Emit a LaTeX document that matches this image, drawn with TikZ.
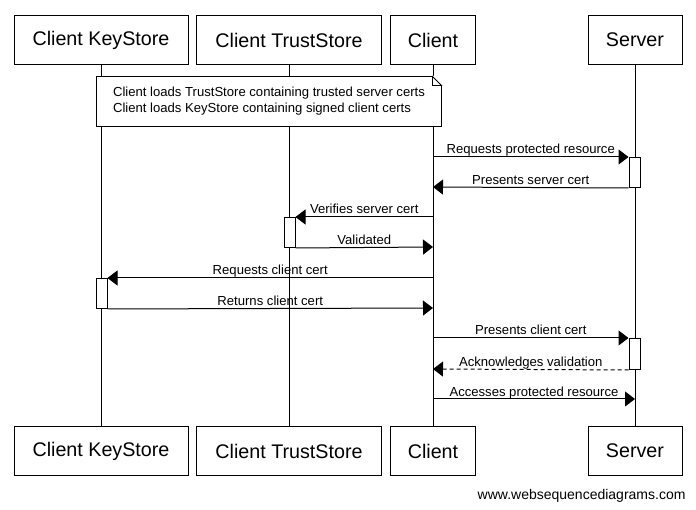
\documentclass[tikz,border=0pt]{standalone}
\usepackage{fontspec}
\setmainfont{Liberation Sans}
\usetikzlibrary{arrows.meta}
\begin{document}
\begin{tikzpicture}[x=1pt,y=-1pt,line width=1pt,
  part/.style={draw,fill=white,minimum height=49pt,inner sep=0pt,font=\fontsize{19.7}{22}\selectfont},
  msg/.style={-{Triangle[length=10pt,width=15pt]}},
  lbl/.style={anchor=base,yshift=3pt,inner sep=0pt,font=\fontsize{13.1}{15}\selectfont},
  act/.style={draw,fill=white,minimum width=11pt,inner sep=0pt,anchor=north},
  notebox/.style={draw,fill=white,align=left,minimum width=345pt,minimum height=50pt,inner sep=0pt,anchor=north west,font=\fontsize{13.1}{16}\selectfont}]
\useasboundingbox (0,0) rectangle (696,510);
% participants
\node[part,minimum width=174pt] (ksT) at (101,40) {Client KeyStore};
\node[part,minimum width=185pt] (tsT) at (289,40) {Client TrustStore};
\node[part,minimum width=85pt] (clT) at (433,40) {Client};
\node[part,minimum width=94pt] (svT) at (635,40) {Server};
\node[part,minimum width=174pt] (ksB) at (101,451) {Client KeyStore};
\node[part,minimum width=185pt] (tsB) at (289,451) {Client TrustStore};
\node[part,minimum width=85pt] (clB) at (433,451) {Client};
\node[part,minimum width=94pt] (svB) at (635,451) {Server};
% lifelines
\draw (ksT.south) -- (ksB.north);
\draw (tsT.south) -- (tsB.north);
\draw (clT.south) -- (clB.north);
\draw (svT.south) -- (svB.north);
% note
\node[notebox] (note) at (96,76) {Client loads TrustStore containing trusted server certs\\Client loads KeyStore containing signed client certs};
\fill[white] ([xshift=-10pt]note.north east) -- ([xshift=1pt]note.north east) -- ([yshift=-10pt]note.north east) -- cycle;
\draw ([xshift=-10pt]note.north east) -- ([yshift=-10pt]note.north east);
\draw ([xshift=-10pt]note.north east) -- ([xshift=-10pt,yshift=-10pt]note.north east) -- ([yshift=-10pt]note.north east);
% activations
\node[act,minimum height=30pt] (sa1) at (634.5,157) {};
\node[act,minimum height=30pt] (ta1) at (289.5,217) {};
\node[act,minimum height=30pt] (ka1) at (101.5,278) {};
\node[act,minimum height=31pt] (sa2) at (634.5,338) {};
% client points
\coordinate (c1) at (433,157);
\coordinate (c2) at (433,187);
\coordinate (c3) at (433,217);
\coordinate (c4) at (433,247);
\coordinate (c5) at (433,278);
\coordinate (c6) at (433,308);
\coordinate (c7) at (433,338);
\coordinate (c8) at (433,369);
\coordinate (c9) at (433,399);
\coordinate (s9) at (635,399);
% messages
\draw[msg] (c1) -- (sa1.north west) node[lbl,midway] {Requests protected resource};
\draw[msg] (sa1.south west) -- (c2) node[lbl,midway] {Presents server cert};
\draw[msg] (c3) -- (ta1.north east) node[lbl,midway] {Verifies server cert};
\draw[msg] (ta1.south east) -- (c4) node[lbl,midway] {Validated};
\draw[msg] (c5) -- (ka1.north east) node[lbl,midway] {Requests client cert};
\draw[msg] (ka1.south east) -- (c6) node[lbl,midway] {Returns client cert};
\draw[msg] (c7) -- (sa2.north west) node[lbl,midway] {Presents client cert};
\draw[msg,dashed,dash pattern=on 4pt off 3pt] (sa2.south west) -- (c8) node[lbl,midway] {Acknowledges validation};
\draw[msg] (c9) -- (s9) node[lbl,midway] {Accesses protected resource};
% footer
\node[anchor=east,inner sep=0pt,font=\fontsize{14}{16}\selectfont] (footer) at (686,495.5) {www.websequencediagrams.com};
\end{tikzpicture}
\end{document}
